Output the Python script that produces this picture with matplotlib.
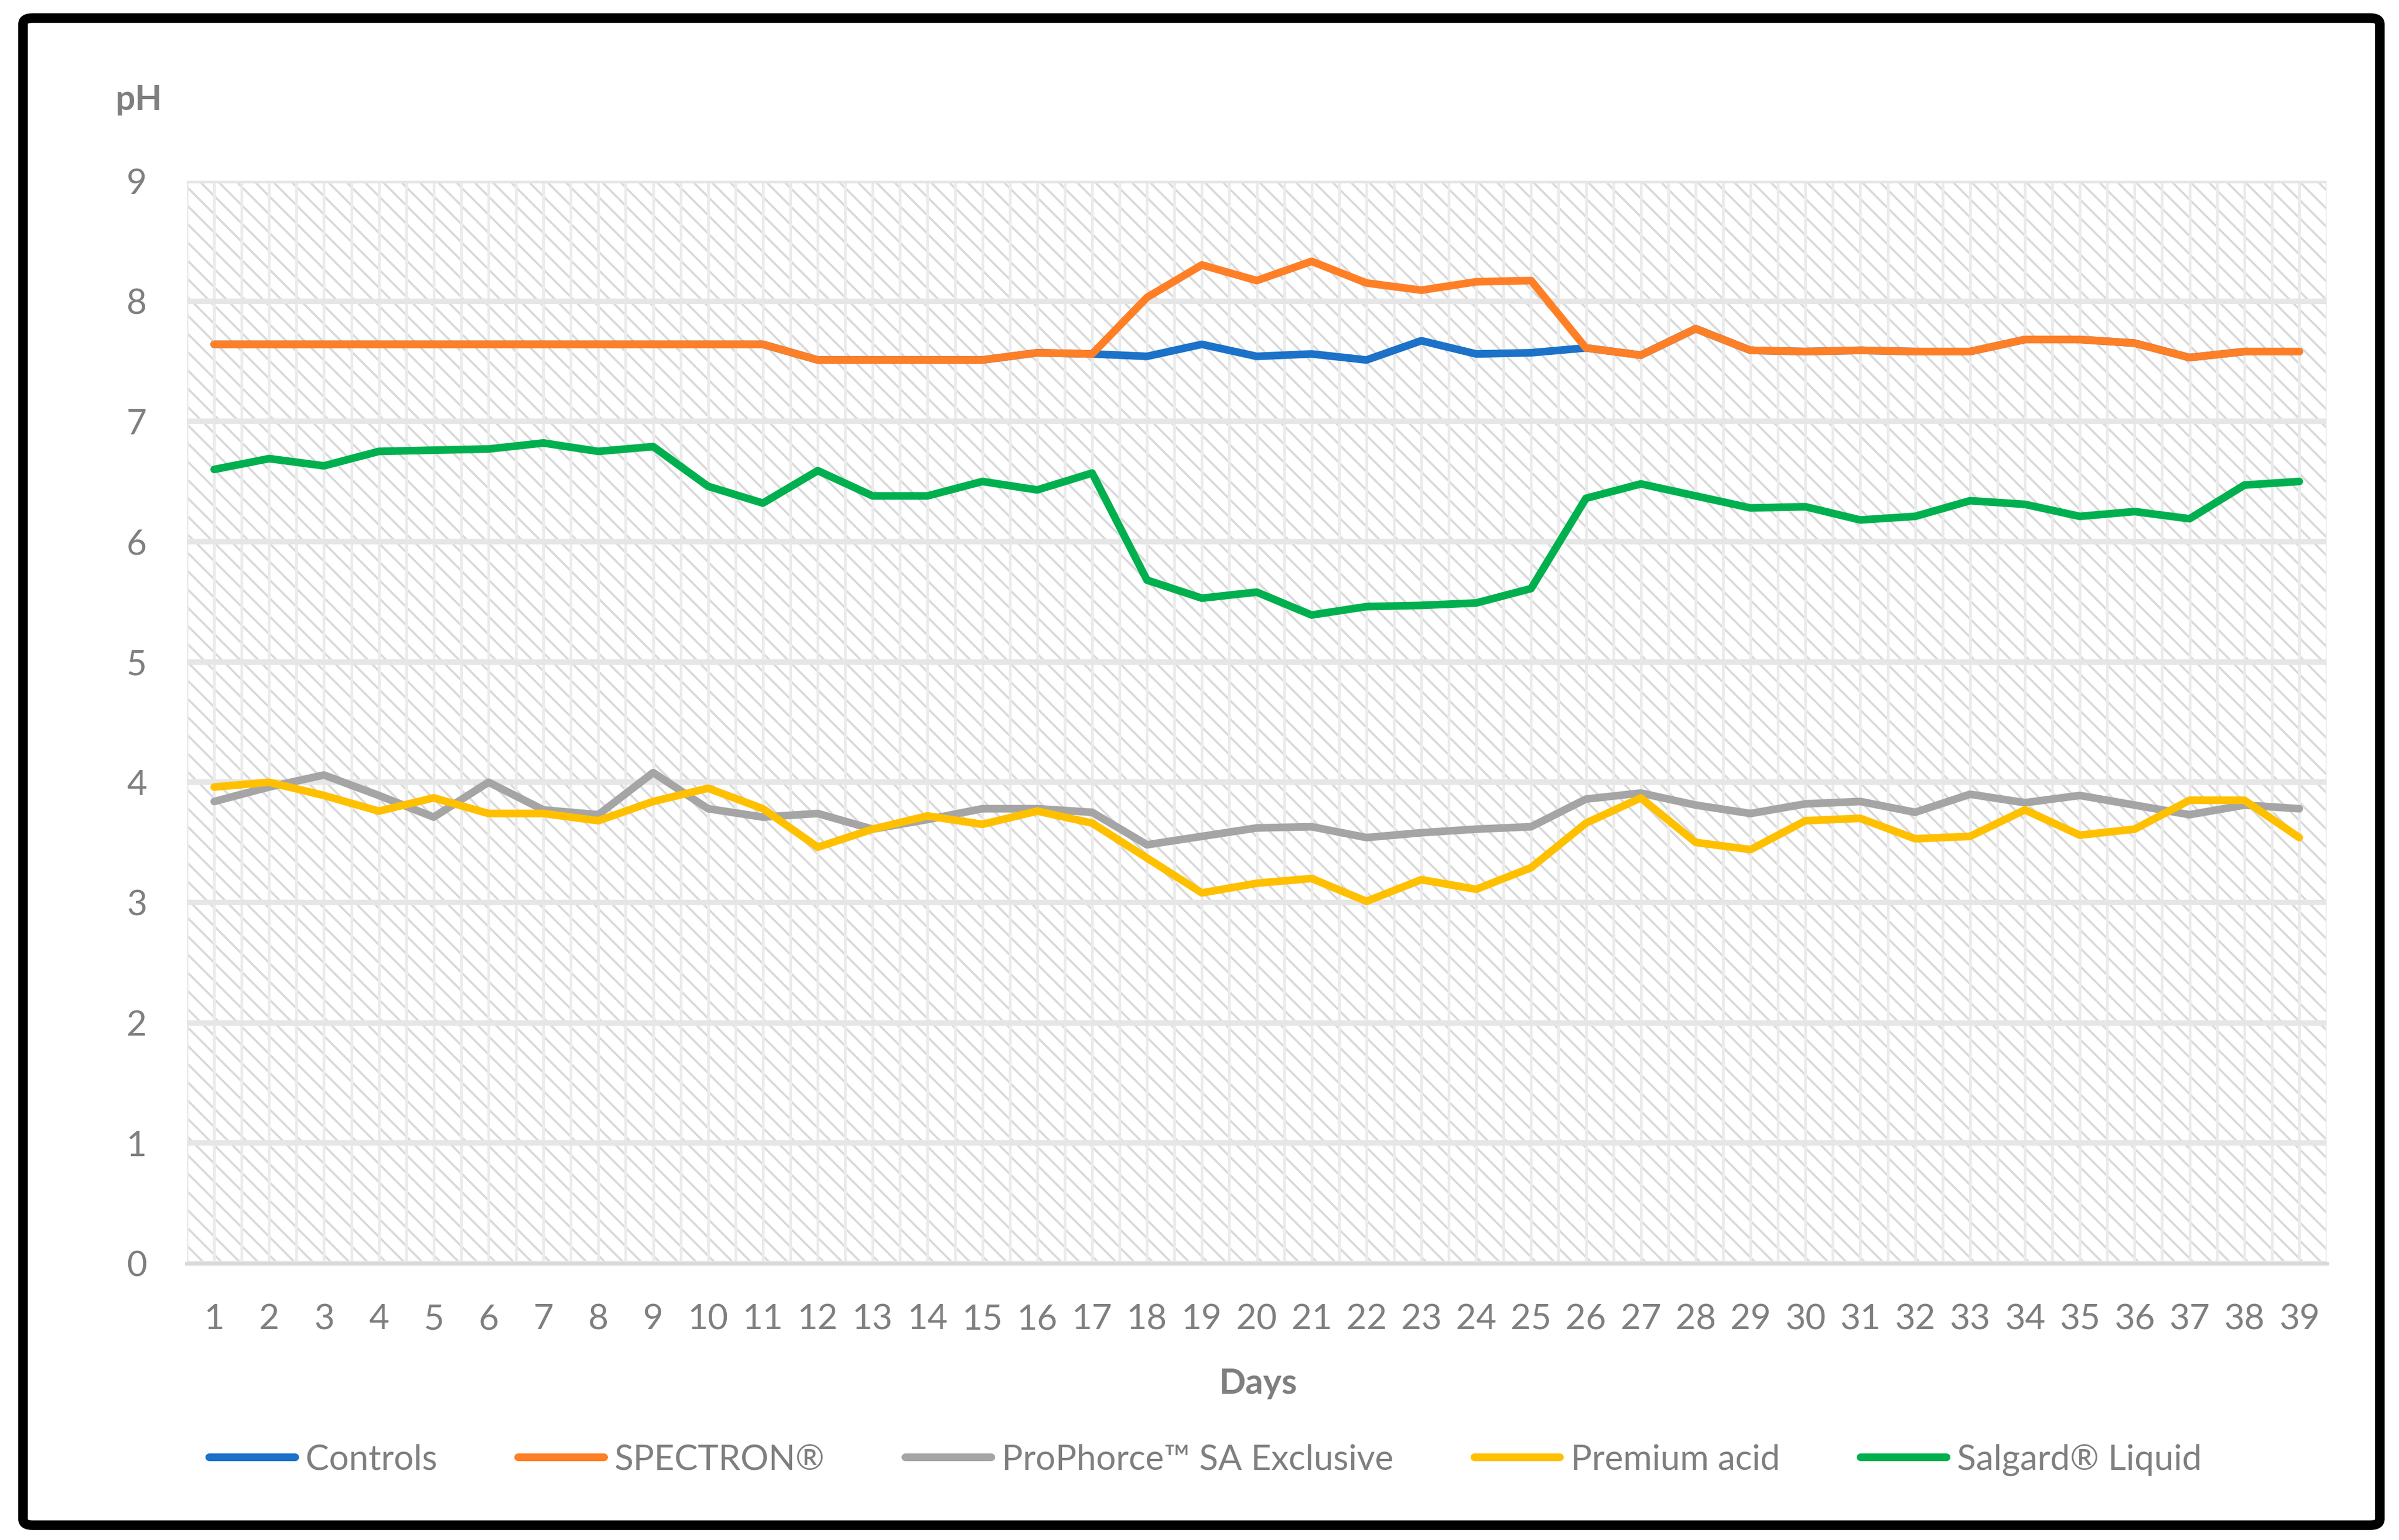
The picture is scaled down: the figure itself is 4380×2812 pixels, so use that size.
import matplotlib
matplotlib.use('Agg')
import matplotlib.pyplot as plt
from matplotlib.patches import Rectangle, FancyBboxPatch
from matplotlib.lines import Line2D
from matplotlib.ticker import MultipleLocator

days = list(range(1, 40))
controls = [7.64, 7.64, 7.64, 7.64, 7.64, 7.64, 7.64, 7.64, 7.64, 7.64, 7.64,
            7.51, 7.51, 7.51, 7.51, 7.57, 7.56, 7.54, 7.64, 7.54, 7.56, 7.51,
            7.67, 7.56, 7.57, 7.61, 7.55, 7.77, 7.59, 7.58, 7.59, 7.58, 7.58,
            7.68, 7.68, 7.65, 7.53, 7.58, 7.58]
spectron = [7.64, 7.64, 7.64, 7.64, 7.64, 7.64, 7.64, 7.64, 7.64, 7.64, 7.64,
            7.51, 7.51, 7.51, 7.51, 7.57, 7.56, 8.03, 8.30, 8.17, 8.33, 8.15,
            8.09, 8.16, 8.17, 7.61, 7.55, 7.77, 7.59, 7.58, 7.59, 7.58, 7.58,
            7.68, 7.68, 7.65, 7.53, 7.58, 7.58]
prophorce = [3.84, 3.96, 4.06, 3.89, 3.71, 4.00, 3.77, 3.73, 4.08, 3.78, 3.71,
             3.74, 3.61, 3.69, 3.78, 3.78, 3.75, 3.48, 3.55, 3.62, 3.63, 3.54,
             3.58, 3.61, 3.63, 3.86, 3.91, 3.81, 3.74, 3.82, 3.84, 3.75, 3.90,
             3.83, 3.89, 3.81, 3.73, 3.81, 3.78]
premium = [3.96, 4.00, 3.89, 3.76, 3.87, 3.74, 3.74, 3.68, 3.84, 3.95, 3.78,
           3.46, 3.61, 3.72, 3.65, 3.76, 3.66, 3.37, 3.08, 3.16, 3.20, 3.01,
           3.19, 3.11, 3.29, 3.66, 3.87, 3.50, 3.44, 3.68, 3.70, 3.53, 3.55,
           3.77, 3.56, 3.61, 3.85, 3.85, 3.54]
salgard = [6.60, 6.69, 6.63, 6.75, 6.76, 6.77, 6.82, 6.75, 6.79, 6.46, 6.32,
           6.59, 6.38, 6.38, 6.50, 6.43, 6.57, 5.68, 5.53, 5.58, 5.39, 5.46,
           5.47, 5.49, 5.61, 6.36, 6.48, 6.38, 6.28, 6.29, 6.18, 6.21, 6.34,
           6.31, 6.21, 6.25, 6.19, 6.47, 6.50]

series_names = ['Controls', 'SPECTRON®', 'ProPhorce™ SA Exclusive',
                'Premium acid', 'Salgard® Liquid']
series_values = [controls, spectron, prophorce, premium, salgard]
series_colors = ['#1B72C8', '#FF7F27', '#A5A5A5', '#FFC000', '#00B04F']
y_ticks = list(range(0, 10))

FONT = ['Lato', 'DejaVu Sans']
TXT = '#7f7f7f'
plt.rcParams['font.family'] = FONT

W, H = 4380, 2812
DPI = 100                      # hatch tile = DPI px -> diagonal every ~17 px
PX = 72.0 / DPI                # points per pixel
plt.rcParams['hatch.linewidth'] = 4.0 * PX

FS = 64 * PX                   # font size (pt)
LW = 14 * PX                   # data line width

fig = plt.figure(figsize=(W / DPI, H / DPI), dpi=DPI)
fig.patch.set_facecolor('white')

L, R, T, B = 341, 4248, 330, 2307
ax = fig.add_axes([L / W, 1 - B / H, (R - L) / W, (B - T) / H])
ax.set_facecolor('white')

# patterned plot area
bg = Rectangle((0, 0), 1, 1, transform=ax.transAxes, facecolor='white',
               edgecolor='#dadada', linewidth=0, hatch='\\', zorder=0.1)
ax.add_patch(bg)

for name, vals, col in zip(series_names, series_values, series_colors):
    ax.plot(days, vals, color=col, lw=LW, solid_capstyle='round',
            solid_joinstyle='round', label=name, zorder=3)

ax.set_xlim(0.5, 39.5)
ax.set_ylim(0, 9)
ax.set_xticks(days)
ax.set_xticklabels([str(d) for d in days])
ax.set_yticks(y_ticks)
ax.set_yticklabels([str(v) for v in y_ticks])
ax.xaxis.set_minor_locator(MultipleLocator(0.5))
ax.set_axisbelow(True)
ax.grid(axis='x', which='both', color='#ebebeb', lw=5 * PX)
ax.grid(axis='y', which='major', color='#e6e6e6', lw=10 * PX)
ax.tick_params(axis='both', which='both', length=0)
ax.tick_params(axis='x', pad=73 * PX, labelsize=FS, labelcolor=TXT)
ax.tick_params(axis='y', pad=73 * PX, labelsize=FS, labelcolor=TXT)
for s in ['top', 'right', 'left']:
    ax.spines[s].set_visible(False)
ax.spines['bottom'].set_color('#d9d9d9')
ax.spines['bottom'].set_linewidth(7 * PX)
ax.spines['bottom'].set_zorder(2.5)

fig.text(253 / W, 1 - 201 / H, 'pH', ha='center', va='baseline',
         fontsize=FS, fontweight='bold', color=TXT)
fig.text(2297 / W, 1 - 2545 / H, 'Days', ha='center', va='baseline',
         fontsize=FS, fontweight='bold', color=TXT)

handles = [Line2D([0], [0], color=c, lw=LW, solid_capstyle='round')
           for c in series_colors]
leg = fig.legend(handles, series_names, loc='center',
                 bbox_to_anchor=(2201 / W, 1 - 2666 / H), ncol=5,
                 frameon=False, fontsize=FS, handlelength=2.45,
                 handletextpad=0.3, columnspacing=2.3, borderpad=0)
for t in leg.get_texts():
    t.set_color(TXT)

# outer rounded black border
border = FancyBboxPatch((42 / W, 1 - 2785 / H), (4345 - 42) / W, (2785 - 33) / H,
                        boxstyle='round,pad=0,rounding_size=0.004',
                        transform=fig.transFigure, facecolor='none',
                        edgecolor='black', linewidth=17.5 * PX, zorder=10)
fig.patches.append(border)

fig.savefig('out.png', dpi=DPI, facecolor='white')
